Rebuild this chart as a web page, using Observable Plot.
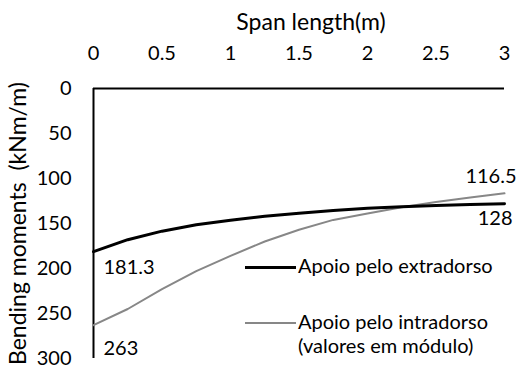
<!DOCTYPE html>
<html>
<head>
<meta charset="utf-8">
<script src="https://cdn.jsdelivr.net/npm/d3@7"></script>
<script src="https://cdn.jsdelivr.net/npm/@observablehq/plot@0.6"></script>
<style>
  body { margin: 0; background: #fff; }
  #chart { position: relative; width: 519px; height: 368px; font-family: Lato, "Open Sans", sans-serif; color: #000; }
  .key { position: absolute; font-size: 20px; line-height: 24px; white-space: nowrap; }
  .swatch { position: absolute; width: 51px; }
</style>
</head>
<body>
<div id="chart"></div>
<script>
// Span positions (m) along the slab
const spanX = [0, 0.25, 0.5, 0.75, 1, 1.25, 1.5, 1.75, 2, 2.25, 2.5, 2.75, 3];
// Bending moments (kNm/m), support on the extrados
const extradorso = [181.3, 168, 158.5, 151.5, 146.5, 142, 138.5, 135.5, 133, 131.5, 130, 129, 128];
// Bending moments (kNm/m), support on the intrados (absolute values)
const intradorso = [263, 245, 223, 203, 186, 170, 157, 146, 139, 132, 126, 121, 116.5];
// Axis ticks
const xTicks = [0, 0.5, 1, 1.5, 2, 2.5, 3];
const yTicks = [0, 50, 100, 150, 200, 250, 300];
const seriesNames = ["Apoio pelo extradorso", "Apoio pelo intradorso", "(valores em módulo)"];

const ext = spanX.map((x, i) => ({x, m: extradorso[i]}));
const intr = spanX.map((x, i) => ({x, m: intradorso[i]}));
const last = a => a[a.length - 1];

const plot = Plot.plot({
  width: 519,
  height: 368,
  marginLeft: 93,
  marginRight: 15,
  marginTop: 88,
  marginBottom: 10,
  style: {fontFamily: "Lato, 'Open Sans', sans-serif", fontSize: "20px", color: "#000", background: "#fff"},
  x: {domain: [0, 3]},
  y: {domain: [0, 300], reverse: true},
  marks: [
    Plot.axisX({anchor: "top", ticks: xTicks, tickSize: 0, tickPadding: 29, tickFormat: d => String(d), label: null}),
    Plot.axisY({ticks: yTicks, tickSize: 0, tickPadding: 22, tickFormat: d => String(d), label: null}),
    Plot.ruleY([0], {stroke: "#000", strokeWidth: 2}),
    Plot.ruleX([0], {stroke: "#000", strokeWidth: 2}),
    Plot.line(intr, {x: "x", y: "m", stroke: "#878787", strokeWidth: 2}),
    Plot.line(ext, {x: "x", y: "m", stroke: "#000", strokeWidth: 3}),
    // end-point value labels
    Plot.text([ext[0]], {x: "x", y: "m", text: d => String(d.m), textAnchor: "start", dx: 10, dy: 16, fill: "#000"}),
    Plot.text([intr[0]], {x: "x", y: "m", text: d => String(d.m), textAnchor: "start", dx: 10, dy: 23, fill: "#000"}),
    Plot.text([last(intr)], {x: "x", y: "m", text: d => String(d.m), textAnchor: "end", dx: 12, dy: -17, fill: "#000"}),
    Plot.text([last(ext)], {x: "x", y: "m", text: d => String(d.m), textAnchor: "end", dx: 8, dy: 15, fill: "#000"}),
    // axis titles
    Plot.text(["Span length(m)"], {frameAnchor: "top", lineAnchor: "middle", textAnchor: "middle", dx: 12, dy: -66, fontSize: 23, fill: "#000"}),
    Plot.text(["Bending moments\u00a0 (kNm/m)"], {frameAnchor: "left", lineAnchor: "middle", textAnchor: "middle", rotate: -90, dx: -75, fontSize: 23, fill: "#000"})
  ]
});

const chart = document.getElementById("chart");
chart.appendChild(plot);

// Legend drawn over the plot area, lower right
const keys = [
  {label: seriesNames[0], color: "#000", width: 3, y: 267},
  {label: seriesNames[1], color: "#878787", width: 2, y: 323},
  {label: seriesNames[2], color: null, width: 0, y: 347}
];
for (const k of keys) {
  if (k.color) {
    const sw = document.createElement("div");
    sw.className = "swatch";
    sw.style.left = "245px";
    sw.style.top = (k.y - k.width / 2) + "px";
    sw.style.height = k.width + "px";
    sw.style.background = k.color;
    chart.appendChild(sw);
  }
  const t = document.createElement("div");
  t.className = "key";
  t.style.left = "298px";
  t.style.top = (k.y - 14) + "px";
  t.textContent = k.label;
  chart.appendChild(t);
}
</script>
</body>
</html>
